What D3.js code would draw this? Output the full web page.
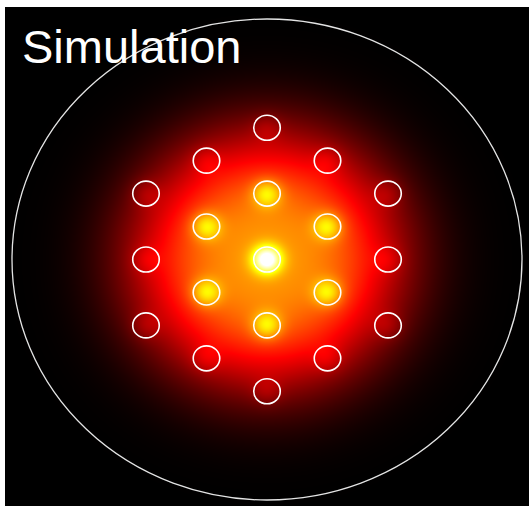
<!DOCTYPE html>
<html>
<head>
<meta charset="utf-8">
<script src="https://cdn.jsdelivr.net/npm/d3@7"></script>
<style>
  html, body { margin: 0; padding: 0; background: #fff; }
  svg { display: block; }
</style>
</head>
<body>
<script>
// Hexagonal 19-core layout: column index (x step = pitch·√3/2) and row index (y step = pitch/2)
const coreCol  = [0,  0, 1, 1, 0, -1, -1,  0, 1, 2, 2, 2, 1, 0, -1, -2, -2, -2, -1];
const coreRow2 = [0,  2, 1, -1, -2, -1, 1,  4, 3, 2, 0, -2, -3, -4, -3, -2, 0, 2, 3];
// Peak of the local core mode added on top of the supermode envelope (normalised intensity)
const corePeak = [0.5, 0.23, 0.23, 0.23, 0.23, 0.23, 0.23,
                  0.06, 0.06, 0.06, 0.06, 0.06, 0.06, 0.06, 0.06, 0.06, 0.06, 0.06, 0.06];

// Geometry, in units of the cladding radius
const pitch = 0.274;
const coreRadius = 0.052;
const coreModeWidth = 0.04;
// Broad flat-topped envelope of the field: amplitude, width and order
const envelopeAmp = [0.59];
const envelopeWidth = [0.53];
const envelopeOrder = [2.9];

// Colormap stops ("hot")
const hotStops = [0, 0.365, 0.746, 1];
const hotColors = ["#000000", "#ff0000", "#ffff00", "#ffffff"];

const W = 529, H = 506;
const frame = {x0: 5, y0: 7, x1: 529, y1: 506};

const svg = d3.select("body").append("svg").attr("width", W).attr("height", H);

const x = d3.scaleLinear().domain([-1, 1]).range([12, 522]);
const y = d3.scaleLinear().domain([-1, 1]).range([500, 19]);
const color = d3.scaleLinear().domain(hotStops).range(hotColors).clamp(true);

const cores = coreCol.map((c, i) => ({
  x: c * pitch * Math.sqrt(3) / 2,
  y: coreRow2[i] * pitch / 2,
  peak: corePeak[i]
}));

function intensity(px, py) {
  const r = Math.sqrt(px * px + py * py);
  let v = envelopeAmp[0] * Math.exp(-Math.pow(r / envelopeWidth[0], envelopeOrder[0]));
  const s2 = 2 * coreModeWidth * coreModeWidth;
  for (const c of cores) {
    const dx = px - c.x, dy = py - c.y;
    v += c.peak * Math.exp(-(dx * dx + dy * dy) / s2);
  }
  return v;
}

// Rasterise the field onto a canvas
const cw = frame.x1 - frame.x0, ch = frame.y1 - frame.y0;
const canvas = document.createElement("canvas");
canvas.width = cw; canvas.height = ch;
const ctx = canvas.getContext("2d");
const img = ctx.createImageData(cw, ch);
for (let j = 0; j < ch; j++) {
  const py = y.invert(frame.y0 + j + 0.5);
  for (let i = 0; i < cw; i++) {
    const px = x.invert(frame.x0 + i + 0.5);
    const c = d3.rgb(color(intensity(px, py)));
    const k = 4 * (j * cw + i);
    img.data[k] = c.r; img.data[k + 1] = c.g; img.data[k + 2] = c.b; img.data[k + 3] = 255;
  }
}
ctx.putImageData(img, 0, 0);

svg.append("rect")
  .attr("x", frame.x0).attr("y", frame.y0)
  .attr("width", cw).attr("height", ch)
  .attr("fill", "#000");

svg.append("image")
  .attr("x", frame.x0).attr("y", frame.y0)
  .attr("width", cw).attr("height", ch)
  .attr("preserveAspectRatio", "none")
  .attr("href", canvas.toDataURL());

// Cladding boundary
svg.append("ellipse")
  .attr("cx", x(0)).attr("cy", y(0))
  .attr("rx", x(1) - x(0)).attr("ry", y(-1) - y(0))
  .attr("fill", "none")
  .attr("stroke", "#e4e4e4")
  .attr("stroke-width", 1.3);

// Core outlines
svg.append("g").selectAll("ellipse")
  .data(cores)
  .join("ellipse")
  .attr("cx", d => x(d.x))
  .attr("cy", d => y(d.y))
  .attr("rx", x(coreRadius) - x(0))
  .attr("ry", y(0) - y(coreRadius))
  .attr("fill", "none")
  .attr("stroke", "#ffffff")
  .attr("stroke-width", 1.6);

svg.append("text")
  .attr("x", 22).attr("y", 63)
  .attr("fill", "#fff")
  .attr("font-family", "'Liberation Sans', Arial, sans-serif")
  .attr("font-size", 47)
  .text("Simulation");
</script>
</body>
</html>
